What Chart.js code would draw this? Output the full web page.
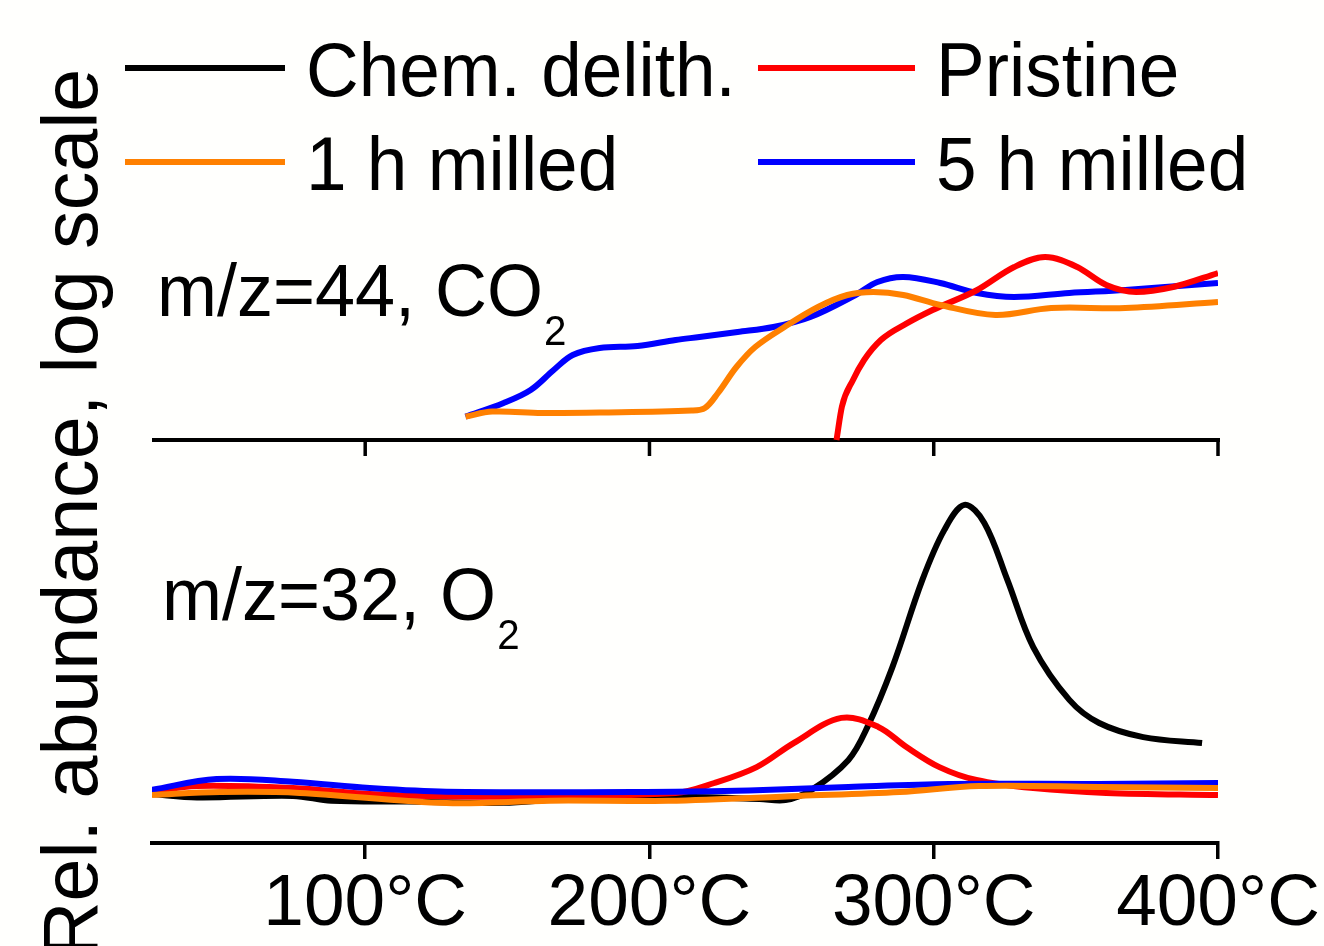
<!DOCTYPE html>
<html>
<head>
<meta charset="utf-8">
<script src="https://cdn.jsdelivr.net/npm/chart.js@4.4.1/dist/chart.umd.min.js"></script>
<style>
  html, body { margin: 0; padding: 0; background: #fffffd; }
  #wrap { width: 1324px; height: 946px; position: relative; overflow: hidden; }
</style>
</head>
<body>
<div id="wrap"><canvas id="chart" width="1324" height="946"></canvas></div>
<script>
const FONT = '"Liberation Sans", Arial, Helvetica, sans-serif';

// x axis ticks (°C)
const xTicks = [100, 200, 300, 400];

const names = ['Chem. delith.', 'Pristine', '1 h milled', '5 h milled'];
const colors = ['#000000', '#ff0000', '#ff8000', '#0000ff'];

// m/z=44, CO2 (relative signal, log scale)
const co2PristineT = [265.8, 267.7, 271.6, 275.5, 281.4, 290.5, 299.6, 315.3, 328.3, 339.2, 350.5, 360.7, 371.2, 384.2, 400];
const co2PristineV = [0, 16.7, 30, 40, 50, 58.3, 65, 75, 86.5, 91.5, 86.5, 77.5, 74, 76.5, 83.5];

const co2Milled1T = [135.3, 144.7, 162.1, 182.5, 214.8, 219.5, 224.1, 230.6, 237.2, 247.5, 259.3, 269.6, 278.8, 289.3, 302.3, 321.7, 341.3, 367.4, 400];
const co2Milled1V = [11.7, 14.2, 13.5, 13.7, 14.7, 16, 23.5, 36.5, 46.5, 56.5, 66.5, 72.5, 74, 72.5, 67.5, 62.5, 66, 66, 69];

const co2Milled5T = [135.3, 148.7, 158.2, 166.3, 173, 182.5, 195.8, 209.2, 217.6, 231, 243.6, 256.6, 272.5, 280.2, 289.3, 302.3, 315.3, 328.3, 347.7, 367.4, 400];
const co2Milled5V = [11.7, 18.5, 25, 35, 42.5, 46, 47, 50, 51.5, 54, 56.5, 61.5, 72.5, 79, 81.5, 78.5, 73.5, 71.5, 73.5, 75, 78.5];

// m/z=32, O2 (relative signal, log scale)
const o2DelithT = [25, 40.8, 74.6, 88.1, 115, 148.7, 169, 209, 238.7, 247.8, 257, 270, 276.7, 285.5, 296, 303.7, 310.8, 317.8, 325.9, 335, 347.7, 358.2, 373.7, 394.4];
const o2DelithV = [16.3, 15.2, 15.7, 14.1, 13.8, 13.4, 14.6, 15.4, 14.7, 14.3, 17.7, 27.7, 38.7, 58.7, 87.7, 104.3, 112.7, 106.7, 87.7, 65.3, 47.7, 40, 35.3, 33.3];

const o2PristineT = [24.8, 40.8, 74.6, 101.6, 142, 209.2, 222.8, 237.7, 250.7, 267.5, 280.5, 290.4, 302, 315, 335, 360.7, 400];
const o2PristineV = [17.1, 19, 18.3, 16.3, 15.4, 16.7, 20, 25.3, 33.3, 41.7, 38.7, 32, 25.3, 21, 18.3, 16.7, 16];

const o2Milled1T = [25, 49, 77, 128.5, 165, 206.6, 252.8, 288, 316, 358, 400];
const o2Milled1V = [16, 17, 16.7, 13.3, 14.1, 14.1, 15.7, 17, 19, 18.7, 18.3];

const o2Milled5T = [24.8, 47.7, 74.6, 101.6, 128.5, 209.2, 235, 270, 305.5, 358, 400];
const o2Milled5V = [17.7, 21.3, 20.4, 18.3, 17.1, 17.1, 17.5, 18.7, 19.7, 19.7, 20];

const toPoints = (ts, vs) => ts.map((t, i) => ({ x: t, y: vs[i] }));

const LINE_W = 6;

function series(idx, ts, vs, axis, extra) {
    return Object.assign({
        label: names[idx],
        data: toPoints(ts, vs),
        borderColor: colors[idx],
        borderWidth: LINE_W,
        yAxisID: axis
    }, extra || {});
}

// draw order roughly like the original
const datasets = [
    series(2, co2Milled1T, co2Milled1V, 'yTop'),
    series(1, co2PristineT, co2PristineV, 'yTop', { cubicInterpolationMode: 'monotone' }),
    series(3, co2Milled5T, co2Milled5V, 'yTop'),
    series(2, o2Milled1T, o2Milled1V, 'yBot'),
    series(3, o2Milled5T, o2Milled5V, 'yBot'),
    series(1, o2PristineT, o2PristineV, 'yBot'),
    series(0, o2DelithT, o2DelithV, 'yBot')
];

const SX = 0.96; // the original lettering is a touch narrower than Arial

function font(size) {
    return size + 'px ' + FONT;
}

// draws text slightly condensed, returns its advance width
function text(ctx, str, x, y, size) {
    ctx.save();
    ctx.font = font(size);
    ctx.translate(x, y);
    ctx.scale(SX, 1);
    ctx.fillText(str, 0, 0);
    const w = ctx.measureText(str).width * SX;
    ctx.restore();
    return w;
}

function labelWithSub(ctx, main, sub, x, y) {
    const w = text(ctx, main, x, y, 75);
    text(ctx, sub, x + w + 1, y + 29, 42);
}

const decorations = {
    id: 'decorations',
    beforeDatasetsDraw(chart) {
        const { ctx, chartArea, scales } = chart;
        // axis line of the upper (CO2) panel
        const y0 = scales.yTop.getPixelForValue(0);
        ctx.save();
        ctx.strokeStyle = '#000';
        ctx.lineWidth = 4;
        ctx.beginPath();
        ctx.moveTo(chartArea.left, y0);
        ctx.lineTo(chartArea.right + 2, y0);
        ctx.stroke();
        ctx.lineWidth = 3.5;
        ctx.beginPath();
        xTicks.forEach(t => {
            const px = scales.x.getPixelForValue(t);
            ctx.moveTo(px, y0);
            ctx.lineTo(px, y0 + 16);
        });
        ctx.stroke();
        ctx.restore();
    },
    afterDraw(chart) {
        const { ctx } = chart;
        ctx.save();
        ctx.fillStyle = '#000';
        ctx.textBaseline = 'alphabetic';
        ctx.textAlign = 'left';

        // legend, two rows by two columns
        const rows = [[0, 1], [2, 3]];
        const rowY = [68, 162];
        const colLine = [[125, 285], [758, 915]];
        const colText = [306, 936];
        rows.forEach((row, r) => {
            row.forEach((idx, c) => {
                ctx.strokeStyle = colors[idx];
                ctx.lineWidth = LINE_W;
                ctx.beginPath();
                ctx.moveTo(colLine[c][0], rowY[r]);
                ctx.lineTo(colLine[c][1], rowY[r]);
                ctx.stroke();
                text(ctx, names[idx], colText[c], rowY[r] + 28, 76);
            });
        });

        // panel labels
        labelWithSub(ctx, 'm/z=44, CO', '2', 157, 316);
        labelWithSub(ctx, 'm/z=32, O', '2', 162, 620);

        // y axis title
        ctx.translate(97, 513);
        ctx.rotate(-Math.PI / 2);
        ctx.textAlign = 'center';
        ctx.scale(0.99, 1);
        ctx.font = font(78);
        ctx.fillText('Rel. abundance, log scale', 0, 0);
        ctx.restore();
    }
};

new Chart(document.getElementById('chart').getContext('2d'), {
    type: 'line',
    data: { datasets },
    options: {
        responsive: false,
        animation: false,
        devicePixelRatio: 1,
        layout: { padding: { left: 152, right: 106, top: 240, bottom: 0 } },
        elements: {
            point: { radius: 0 },
            line: { tension: 0.35, fill: false, capBezierPoints: true, borderJoinStyle: 'round' }
        },
        plugins: {
            legend: { display: false },
            tooltip: { enabled: false }
        },
        scales: {
            x: {
                type: 'linear',
                min: 25,
                max: 400,
                afterFit: s => { s.height = 103; },
                afterBuildTicks: s => { s.ticks = xTicks.map(v => ({ value: v })); },
                grid: { drawOnChartArea: false, tickLength: 16, lineWidth: 3.5, color: '#000' },
                border: { width: 4, color: '#000' },
                ticks: {
                    color: '#000',
                    font: { family: FONT, size: 73 },
                    padding: 2,
                    maxRotation: 0,
                    autoSkip: false,
                    callback: v => v + '°C'
                }
            },
            yTop: { display: false, min: -201.5, max: 100 },
            yBot: { display: false, min: 0, max: 201 }
        }
    },
    plugins: [decorations]
});
</script>
</body>
</html>
